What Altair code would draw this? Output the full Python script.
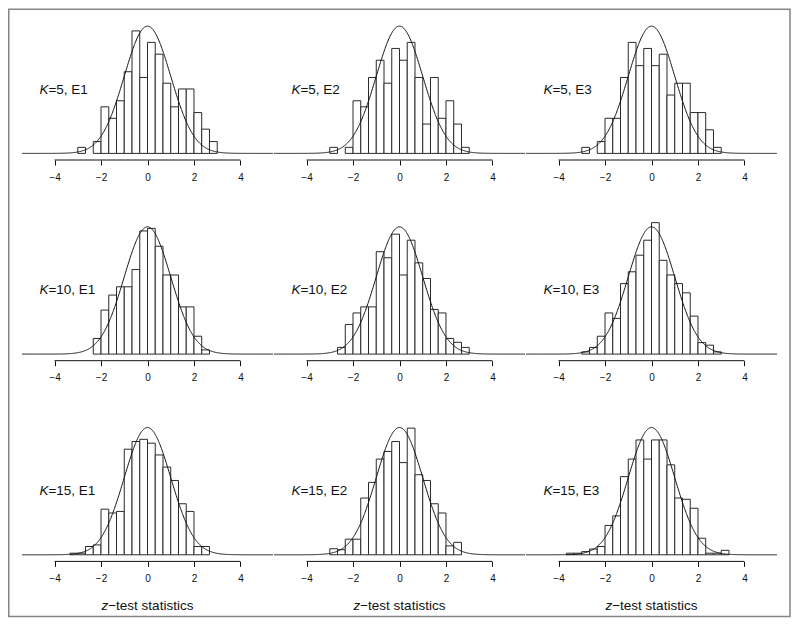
import altair as alt
import pandas as pd

FONT = "Liberation Sans"
BIN_W = 1 / 3
X_DOMAIN = [-5.4, 5.4]
Y_DOMAIN = [-0.0207, 0.4495]
PANEL_W = 251
PANEL_H = 150
TICKS = [-4, -2, 0, 2, 4]

k_values = [5, 5, 5, 10, 10, 10, 15, 15, 15]
e_labels = ["E1", "E2", "E3", "E1", "E2", "E3", "E1", "E2", "E3"]

# left edge of the first bin of each panel
first_edge = [-3, -3, -3, -7 / 3, -8 / 3, -3, -10 / 3, -3, -11 / 3]

# histogram densities (bin width 1/3)
dens_k5_e1 = [0.019, 0.0, 0.037, 0.146, 0.110, 0.165, 0.256, 0.384, 0.238, 0.348,
              0.311, 0.220, 0.146, 0.202, 0.202, 0.128, 0.076, 0.037]
dens_k5_e2 = [0.019, 0.0, 0.019, 0.165, 0.146, 0.238, 0.292, 0.220, 0.329, 0.292,
              0.348, 0.238, 0.092, 0.238, 0.110, 0.165, 0.092, 0.019]
dens_k5_e3 = [0.019, 0.0, 0.037, 0.110, 0.110, 0.238, 0.348, 0.275, 0.329, 0.275,
              0.311, 0.183, 0.220, 0.220, 0.128, 0.128, 0.074, 0.019]
dens_k10_e1 = [0.049, 0.138, 0.185, 0.211, 0.211, 0.265, 0.386, 0.394, 0.338, 0.248,
               0.248, 0.148, 0.148, 0.056, 0.013]
dens_k10_e2 = [0.021, 0.093, 0.129, 0.148, 0.148, 0.321, 0.302, 0.376, 0.248, 0.357,
               0.286, 0.237, 0.140, 0.129, 0.049, 0.037, 0.021]
dens_k10_e3 = [0.007, 0.021, 0.056, 0.129, 0.112, 0.221, 0.258, 0.310, 0.357, 0.412,
               0.294, 0.248, 0.221, 0.192, 0.119, 0.036, 0.028, 0.007]
dens_k15_e1 = [0.005, 0.005, 0.026, 0.031, 0.143, 0.131, 0.136, 0.331, 0.355, 0.362,
               0.350, 0.313, 0.275, 0.233, 0.160, 0.136, 0.026, 0.026]
dens_k15_e2 = [0.019, 0.016, 0.049, 0.049, 0.178, 0.227, 0.300, 0.324, 0.355, 0.289,
               0.397, 0.251, 0.233, 0.160, 0.131, 0.028, 0.039]
dens_k15_e3 = [0.005, 0.005, 0.010, 0.018, 0.026, 0.092, 0.122, 0.245, 0.300, 0.360,
               0.300, 0.360, 0.360, 0.282, 0.178, 0.174, 0.146, 0.052, 0.005, 0.005, 0.014]

all_dens = [dens_k5_e1, dens_k5_e2, dens_k5_e3,
            dens_k10_e1, dens_k10_e2, dens_k10_e3,
            dens_k15_e1, dens_k15_e2, dens_k15_e3]

LABEL_X = -4.65
LABEL_Y = 0.20
TITLE_X = -1.69

xs = alt.Scale(domain=X_DOMAIN, nice=False, zero=False)
ys = alt.Scale(domain=Y_DOMAIN, nice=False, zero=False)
AX = alt.Axis(values=TICKS, domain=False, grid=False, ticks=True, tickSize=5,
              tickColor="#111", tickWidth=1, labelFontSize=10, labelFont=FONT,
              labelColor="#111", labelPadding=7, title=None)


def X(field):
    return alt.X(field, scale=xs, axis=AX)


def Y(field):
    return alt.Y(field, scale=ys, axis=None)


def make_panel(idx):
    k, e, start, dens = k_values[idx], e_labels[idx], first_edge[idx], all_dens[idx]
    rows = [{"lo": start + i * BIN_W, "hi": start + (i + 1) * BIN_W, "d": d, "base": 0.0}
            for i, d in enumerate(dens) if d > 0]
    df = pd.DataFrame(rows)

    bars = alt.Chart(df).mark_rect(fill="white", stroke="#2a2a2a", strokeWidth=1).encode(
        x=X("lo:Q"), x2="hi:Q", y=Y("d:Q"), y2="base:Q",
    )

    curve = alt.Chart(alt.sequence(X_DOMAIN[0], X_DOMAIN[1] + 0.001, 0.02, as_="z")).transform_calculate(
        dens="exp(-datum.z*datum.z/2)/sqrt(2*PI)"
    ).mark_line(color="#111", strokeWidth=1).encode(x=X("z:Q"), y=Y("dens:Q"))

    rule_df = pd.DataFrame({"a": [TICKS[0]], "b": [TICKS[-1]]})
    axis_line = alt.Chart(rule_df).mark_rule(color="#111", strokeWidth=1).encode(
        x=X("a:Q"), x2="b:Q", y=alt.value(PANEL_H)
    )

    one = pd.DataFrame({"x": [LABEL_X], "y": [LABEL_Y]})
    k_txt = alt.Chart(one).mark_text(
        text="K", fontStyle="italic", align="left", baseline="middle",
        font=FONT, fontSize=13.5, color="#111"
    ).encode(x=X("x:Q"), y=Y("y:Q"))
    rest_txt = alt.Chart(one).mark_text(
        text=f"={k}, {e}", align="left", baseline="middle", dx=9,
        font=FONT, fontSize=13.5, color="#111"
    ).encode(x=X("x:Q"), y=Y("y:Q"))

    layers = [bars, curve, axis_line, k_txt, rest_txt]

    if idx >= 6:
        tdf = pd.DataFrame({"x": [TITLE_X]})
        z_txt = alt.Chart(tdf).mark_text(
            text="z", fontStyle="italic", align="right", baseline="middle",
            font=FONT, fontSize=13.5, color="#111"
        ).encode(x=X("x:Q"), y=alt.value(PANEL_H + 44.5))
        t_txt = alt.Chart(tdf).mark_text(
            text="\u2212test statistics", align="left", baseline="middle",
            font=FONT, fontSize=13.5, color="#111"
        ).encode(x=X("x:Q"), y=alt.value(PANEL_H + 44.5))
        layers += [z_txt, t_txt]

    if idx == 0:
        frame = alt.Chart(pd.DataFrame({"a": [0]})).mark_rect(
            fillOpacity=0, stroke="#858585", strokeWidth=1.5
        ).encode(
            x=alt.value(-13.25), x2=alt.value(768),
            y=alt.value(-0.8), y2=alt.value(606.5),
        )
        layers = [frame] + layers

    return alt.layer(*layers).properties(width=PANEL_W, height=PANEL_H)


panels = [make_panel(i) for i in range(9)]

chart = alt.concat(
    *panels, columns=3,
    spacing=alt.RowColnumber(column=1, row=50.7),
    bounds="flush",
).configure_view(stroke=None).properties(padding=0, background="white")

chart.save("out.html", embed_options={"renderer": "svg", "actions": False})
